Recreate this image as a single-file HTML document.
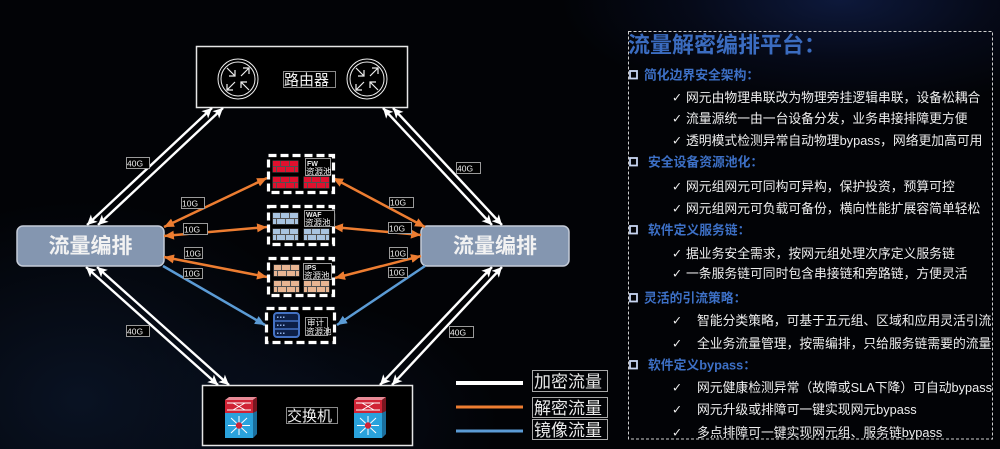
<!DOCTYPE html>
<html><head><meta charset="utf-8">
<style>
html,body{margin:0;padding:0;}
body{width:1000px;height:449px;overflow:hidden;position:relative;
background:
 radial-gradient(ellipse 280px 110px at 840px 0px, rgba(14,26,62,0.95) 0%, rgba(8,14,36,0.6) 55%, rgba(0,0,0,0) 100%),
 radial-gradient(ellipse 260px 200px at 80px 400px, rgba(10,20,38,0.9) 0%, rgba(0,0,0,0) 100%),
 radial-gradient(ellipse 200px 120px at 300px 420px, rgba(8,16,32,0.8) 0%, rgba(0,0,0,0) 100%),
 #020306;}
svg{position:absolute;left:0;top:0;}
</style></head><body>
<svg width="1000" height="449" viewBox="0 0 1000 449" font-family="'Liberation Sans','Noto Sans CJK SC',sans-serif">
<defs>
<marker id="wa" markerUnits="userSpaceOnUse" markerWidth="12" markerHeight="12" refX="10" refY="5" orient="auto-start-reverse"><path d="M0,0 L10,5 L0,10 L2.5,5 z" fill="#fff"/></marker>
<marker id="oa" markerUnits="userSpaceOnUse" markerWidth="12" markerHeight="12" refX="10" refY="4.5" orient="auto-start-reverse"><path d="M0,0 L10,4.5 L0,9 z" fill="#ed7d31"/></marker>
<marker id="ba" markerUnits="userSpaceOnUse" markerWidth="12" markerHeight="12" refX="10" refY="4.5" orient="auto-start-reverse"><path d="M0,0 L10,4.5 L0,9 z" fill="#5b9bd5"/></marker>
<g id="bk">
<rect x="-0.5" y="-0.5" width="26" height="12" fill="#e8e8e8" opacity="0.35"/>
<rect x="0" y="0" width="7" height="5"/><rect x="8" y="0" width="8" height="5"/><rect x="17" y="0" width="8" height="5"/>
<rect x="0" y="6" width="3" height="5"/><rect x="4" y="6" width="8" height="5"/><rect x="13" y="6" width="8" height="5"/><rect x="22" y="6" width="3" height="5"/>
</g>
<clipPath id="pc"><rect x="620" y="25" width="372" height="420"/></clipPath>
</defs>

<!-- Router box -->
<rect x="196.5" y="46.5" width="211" height="61" fill="#000" stroke="#e6e6e6" stroke-width="1.5"/>
<g fill="none" stroke="#eee" stroke-width="1">
<circle cx="238" cy="79" r="20"/><circle cx="238" cy="79" r="17"/>
<circle cx="367" cy="79" r="20"/><circle cx="367" cy="79" r="17"/>
</g>
<g stroke="#eee" stroke-width="1.2" fill="none">
<!-- left router arrows -->
<path d="M227,68 L235,76 M235,70 L235,76 L229,76"/>
<path d="M249,90 L241,82 M241,88 L241,82 L247,82"/>
<path d="M241,76 L249,68 M243,68 L249,68 L249,74"/>
<path d="M235,82 L227,90 M227,84 L227,90 L233,90"/>
<!-- right router arrows -->
<path d="M356,68 L364,76 M364,70 L364,76 L358,76"/>
<path d="M378,90 L370,82 M370,88 L370,82 L376,82"/>
<path d="M370,76 L378,68 M372,68 L378,68 L378,74"/>
<path d="M364,82 L356,90 M356,84 L356,90 L362,90"/>
</g>
<rect x="283.5" y="71.5" width="52" height="16" fill="none" stroke="#8a8a8a" stroke-width="1"/>
<text x="284" y="85" font-size="15" fill="#f0f0f0">路由器</text>

<!-- Switch box -->
<rect x="202.5" y="385.5" width="210" height="60" fill="#000" stroke="#e6e6e6" stroke-width="1.5"/>
<g id="sw1">
<polygon points="225,400 229,397 257,397 253,400" fill="#e88a96"/>
<polygon points="253,400 257,397 257,434 253,438" fill="#7a1620"/>
<rect x="225" y="400" width="28" height="13" fill="#d02335"/>
<polygon points="253,413 257,411 257,434 253,438" fill="#1a6e9c"/>
<rect x="225" y="413" width="28" height="25" fill="#2aa2dc"/>
<g stroke="#fff" stroke-width="1">
<line x1="227" y1="403" x2="251" y2="403"/><line x1="227" y1="410" x2="251" y2="410"/>
<line x1="233" y1="403" x2="245" y2="410"/><line x1="245" y1="403" x2="233" y2="410"/>
<line x1="239" y1="416" x2="239" y2="435"/><line x1="228" y1="425.5" x2="250" y2="425.5"/>
<line x1="231" y1="418" x2="247" y2="433"/><line x1="247" y1="418" x2="231" y2="433"/>
</g>
<circle cx="239" cy="425.5" r="3.2" fill="#d02335"/>
</g>
<use href="#sw1" x="129" y="0"/>
<rect x="286.5" y="407.5" width="51" height="16" fill="none" stroke="#8a8a8a" stroke-width="1"/>
<text x="287" y="421" font-size="15" fill="#f0f0f0">交换机</text>

<!-- White 40G lines -->
<g stroke="#fff" stroke-width="2.4" marker-start="url(#wa)" marker-end="url(#wa)">
<line x1="212" y1="108" x2="87" y2="225"/>
<line x1="223" y1="108" x2="98" y2="225"/>
<line x1="383" y1="108" x2="492" y2="225"/>
<line x1="393" y1="108" x2="502" y2="225"/>
<line x1="86" y1="267" x2="218" y2="385"/>
<line x1="97" y1="267" x2="229" y2="385"/>
<line x1="492" y1="267" x2="380" y2="385"/>
<line x1="502" y1="267" x2="392" y2="385"/>
</g>

<!-- Orchestration boxes -->
<rect x="17" y="226" width="147" height="40" rx="6" fill="#8496b0" stroke="#c4cbd8" stroke-width="1.5"/>
<text x="90.5" y="253" font-size="21" font-weight="bold" fill="#f2f2f2" text-anchor="middle">流量编排</text>
<rect x="421" y="226" width="148" height="40" rx="6" fill="#8496b0" stroke="#c4cbd8" stroke-width="1.5"/>
<text x="495" y="253" font-size="21" font-weight="bold" fill="#f2f2f2" text-anchor="middle">流量编排</text>

<!-- Orange / blue arrows -->
<g stroke="#ed7d31" stroke-width="2.5" marker-start="url(#oa)" marker-end="url(#oa)">
<line x1="164" y1="227" x2="267" y2="178"/>
<line x1="164" y1="236" x2="267" y2="227"/>
<line x1="164" y1="257" x2="267" y2="277"/>
<line x1="333" y1="178" x2="425" y2="227"/>
<line x1="333" y1="227" x2="421" y2="235"/>
<line x1="335" y1="278" x2="421" y2="256"/>
</g>
<g stroke="#5b9bd5" stroke-width="2.5" marker-end="url(#ba)">
<line x1="163" y1="266" x2="265" y2="325"/>
<line x1="425" y1="266" x2="337" y2="325"/>
</g>

<!-- Resource pools -->
<g fill="#000" stroke="#fff" stroke-width="3.2" stroke-dasharray="8 4">
<rect x="268.5" y="155.5" width="65" height="37"/>
<rect x="268.5" y="206.5" width="65" height="38"/>
<rect x="268.5" y="258.5" width="65" height="37"/>
<rect x="266.5" y="308.5" width="68" height="34"/>
</g>
<use href="#bk" x="273" y="161" fill="#e0102e"/>
<use href="#bk" x="273" y="177" fill="#e0102e"/>
<use href="#bk" x="304" y="177" fill="#e0102e"/>
<use href="#bk" x="273" y="213" fill="#a9c4e0"/>
<use href="#bk" x="273" y="229" fill="#a9c4e0"/>
<use href="#bk" x="304" y="229" fill="#a9c4e0"/>
<use href="#bk" x="274" y="265" fill="#e8b592"/>
<use href="#bk" x="274" y="281" fill="#e8b592"/>
<use href="#bk" x="304" y="281" fill="#e8b592"/>
<g fill="#000" stroke="#9a9a9a" stroke-width="1">
<rect x="305.5" y="158.5" width="25" height="17"/>
<rect x="304.5" y="210.5" width="30" height="16"/>
<rect x="303.5" y="263.5" width="28" height="16"/>
<rect x="305.5" y="317.5" width="22" height="18"/>
</g>
<g fill="#eee">
<text x="307" y="166" font-size="7" font-weight="bold">FW</text>
<text x="306" y="174.5" font-size="8.5">资源池</text>
<text x="306" y="217" font-size="7" font-weight="bold">WAF</text>
<text x="305" y="225.5" font-size="8.5">资源池</text>
<text x="305" y="270" font-size="7" font-weight="bold">IPS</text>
<text x="304" y="278.5" font-size="8.5">资源池</text>
<text x="307" y="325.5" font-size="8.5">审计</text>
<text x="306" y="334.5" font-size="8.5">资源池</text>
</g>
<!-- server icon -->
<rect x="274" y="313" width="25" height="24" rx="3" fill="#0d1f45" stroke="#4472c4" stroke-width="2"/>
<g stroke="#4472c4" stroke-width="1.5"><line x1="274" y1="321" x2="299" y2="321"/><line x1="274" y1="329" x2="299" y2="329"/></g>
<g fill="#8fb0e8"><rect x="277" y="316.5" width="1.5" height="1.5"/><rect x="280" y="316.5" width="1.5" height="1.5"/><rect x="283" y="316.5" width="1.5" height="1.5"/>
<rect x="277" y="324.5" width="1.5" height="1.5"/><rect x="280" y="324.5" width="1.5" height="1.5"/><rect x="283" y="324.5" width="1.5" height="1.5"/>
<rect x="277" y="332.5" width="1.5" height="1.5"/><rect x="280" y="332.5" width="1.5" height="1.5"/><rect x="283" y="332.5" width="1.5" height="1.5"/></g>

<!-- bandwidth labels -->
<g fill="#000" stroke="#9a9a9a" stroke-width="1">
<rect x="126.5" y="157.5" width="23" height="11"/>
<rect x="126.5" y="325.5" width="23" height="11"/>
<rect x="181.5" y="197.5" width="23" height="11"/>
<rect x="183.5" y="223.5" width="24" height="11"/>
<rect x="184.5" y="247.5" width="18" height="11"/>
<rect x="183.5" y="268.5" width="19" height="10"/>
<rect x="456.5" y="162.5" width="24" height="11"/>
<rect x="449.5" y="326.5" width="24" height="11"/>
<rect x="389.5" y="197.5" width="24" height="10"/>
<rect x="388.5" y="222.5" width="23" height="11"/>
<rect x="389.5" y="247.5" width="18" height="11"/>
<rect x="388.5" y="267.5" width="19" height="10"/>
</g>
<g fill="#f0f0f0" font-size="8.5">
<text x="127" y="166.5">40G</text>
<text x="127" y="334.5">40G</text>
<text x="182" y="206.5">10G</text>
<text x="184" y="232.5">10G</text>
<text x="185" y="256.5">10G</text>
<text x="184" y="276.5">10G</text>
<text x="457" y="171.5">40G</text>
<text x="450" y="335.5">40G</text>
<text x="390" y="205.5">10G</text>
<text x="389" y="231.5">10G</text>
<text x="390" y="256.5">10G</text>
<text x="389" y="275.5">10G</text>
</g>

<!-- Legend -->
<line x1="456" y1="383" x2="523" y2="383" stroke="#fff" stroke-width="4"/>
<line x1="456" y1="407" x2="523" y2="407" stroke="#ed7d31" stroke-width="3"/>
<line x1="456" y1="431" x2="523" y2="431" stroke="#5b9bd5" stroke-width="3"/>
<g fill="none" stroke="#a8a8a8" stroke-width="1">
<rect x="532.5" y="370.5" width="75" height="21"/>
<rect x="532.5" y="397.5" width="75" height="20"/>
<rect x="532.5" y="419.5" width="75" height="20"/>
</g>
<g fill="#e8e8e8" font-size="17">
<text x="534" y="387.5">加密流量</text>
<text x="534" y="414">解密流量</text>
<text x="534" y="436">镜像流量</text>
</g>

<!-- Right panel -->
<rect x="628.5" y="31.5" width="364" height="407.5" fill="none" stroke="#cfcfcf" stroke-width="1" stroke-dasharray="3 2"/>
<g clip-path="url(#pc)">
<text x="628" y="52.5" font-size="22" font-weight="bold" fill="#3b6cc0">流量解密编排平台：</text>
<g fill="none" stroke="#c9d6f2" stroke-width="1.8">
<rect x="630" y="71" width="7" height="7.5"/>
<rect x="630" y="158" width="7" height="7.5"/>
<rect x="630" y="226" width="7" height="7.5"/>
<rect x="630" y="294" width="7" height="7.5"/>
<rect x="630" y="361" width="7" height="7.5"/>
</g>
<g fill="#3d70c6" font-size="12.8" font-weight="bold">
<text x="644" y="79.5">简化边界安全架构：</text>
<text x="648" y="166.5">安全设备资源池化：</text>
<text x="648" y="234.5">软件定义服务链：</text>
<text x="644" y="302.5">灵活的引流策略：</text>
<text x="648" y="369.5">软件定义bypass：</text>
</g>
<g fill="#eeeeee" font-size="12" font-family="'DejaVu Sans',sans-serif">
<text x="672" y="101.5">✓</text>
<text x="672" y="122.5">✓</text>
<text x="672" y="144.5">✓</text>
<text x="672" y="190.5">✓</text>
<text x="672" y="212.5">✓</text>
<text x="672" y="257.5">✓</text>
<text x="672" y="277.5">✓</text>
<text x="672" y="324.5">✓</text>
<text x="672" y="347.5">✓</text>
<text x="672" y="391.5">✓</text>
<text x="672" y="413.5">✓</text>
<text x="672" y="436.5">✓</text>
</g>
<g fill="#eeeeee" font-size="12.8">
<text x="686" y="102">网元由物理串联改为物理旁挂逻辑串联，设备松耦合</text>
<text x="686" y="123">流量源统一由一台设备分发，业务串接排障更方便</text>
<text x="686" y="145">透明模式检测异常自动物理bypass，网络更加高可用</text>
<text x="686" y="191">网元组网元可同构可异构，保护投资，预算可控</text>
<text x="686" y="213">网元组网元可负载可备份，横向性能扩展容简单轻松</text>
<text x="686" y="258">据业务安全需求，按网元组处理次序定义服务链</text>
<text x="686" y="278">一条服务链可同时包含串接链和旁路链，方便灵活</text>
<text x="697" y="325">智能分类策略，可基于五元组、区域和应用灵活引流</text>
<text x="697" y="348">全业务流量管理，按需编排，只给服务链需要的流量</text>
<text x="697" y="392">网元健康检测异常（故障或SLA下降）可自动bypass</text>
<text x="697" y="414">网元升级或排障可一键实现网元bypass</text>
<text x="697" y="437">多点排障可一键实现网元组、服务链bypass</text>
</g>
</g>
</svg>
</body></html>
